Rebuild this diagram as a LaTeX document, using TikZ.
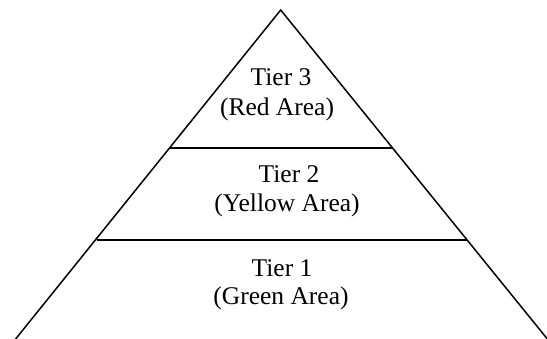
\documentclass[tikz,border=0pt]{standalone}
\usepackage{fontspec}
\setmainfont{Liberation Serif}
\begin{document}
\begin{tikzpicture}[x=1pt,y=-1pt,
  edge/.style={line width=1.5pt,line join=miter},
  lbl/.style={anchor=base,inner sep=0pt,font=\fontsize{25.5}{29.5}\selectfont}]
\useasboundingbox (0,0) rectangle (547,339);
\coordinate (apex) at (280.7,10);
\coordinate (bl) at (14,341);
\coordinate (br) at (549,341);
\coordinate (l2) at (170,148);
\coordinate (r2) at (392,148);
\coordinate (l1) at (97,240);
\coordinate (r1) at (467,240);
\draw[edge] (bl) -- (apex) -- (br);
\draw[edge] (l2) -- (r2);
\draw[edge] (l1) -- (r1);
\node[lbl] (t3a) at (281,86) {Tier 3};
\node[lbl] (t3b) at (277,116) {(Red Area)};
\node[lbl] (t2a) at (289,183) {Tier 2};
\node[lbl] (t2b) at (287,212) {(Yellow Area)};
\node[lbl] (t1a) at (282,277) {Tier 1};
\node[lbl] (t1b) at (281,305) {(Green Area)};
\end{tikzpicture}
\end{document}
